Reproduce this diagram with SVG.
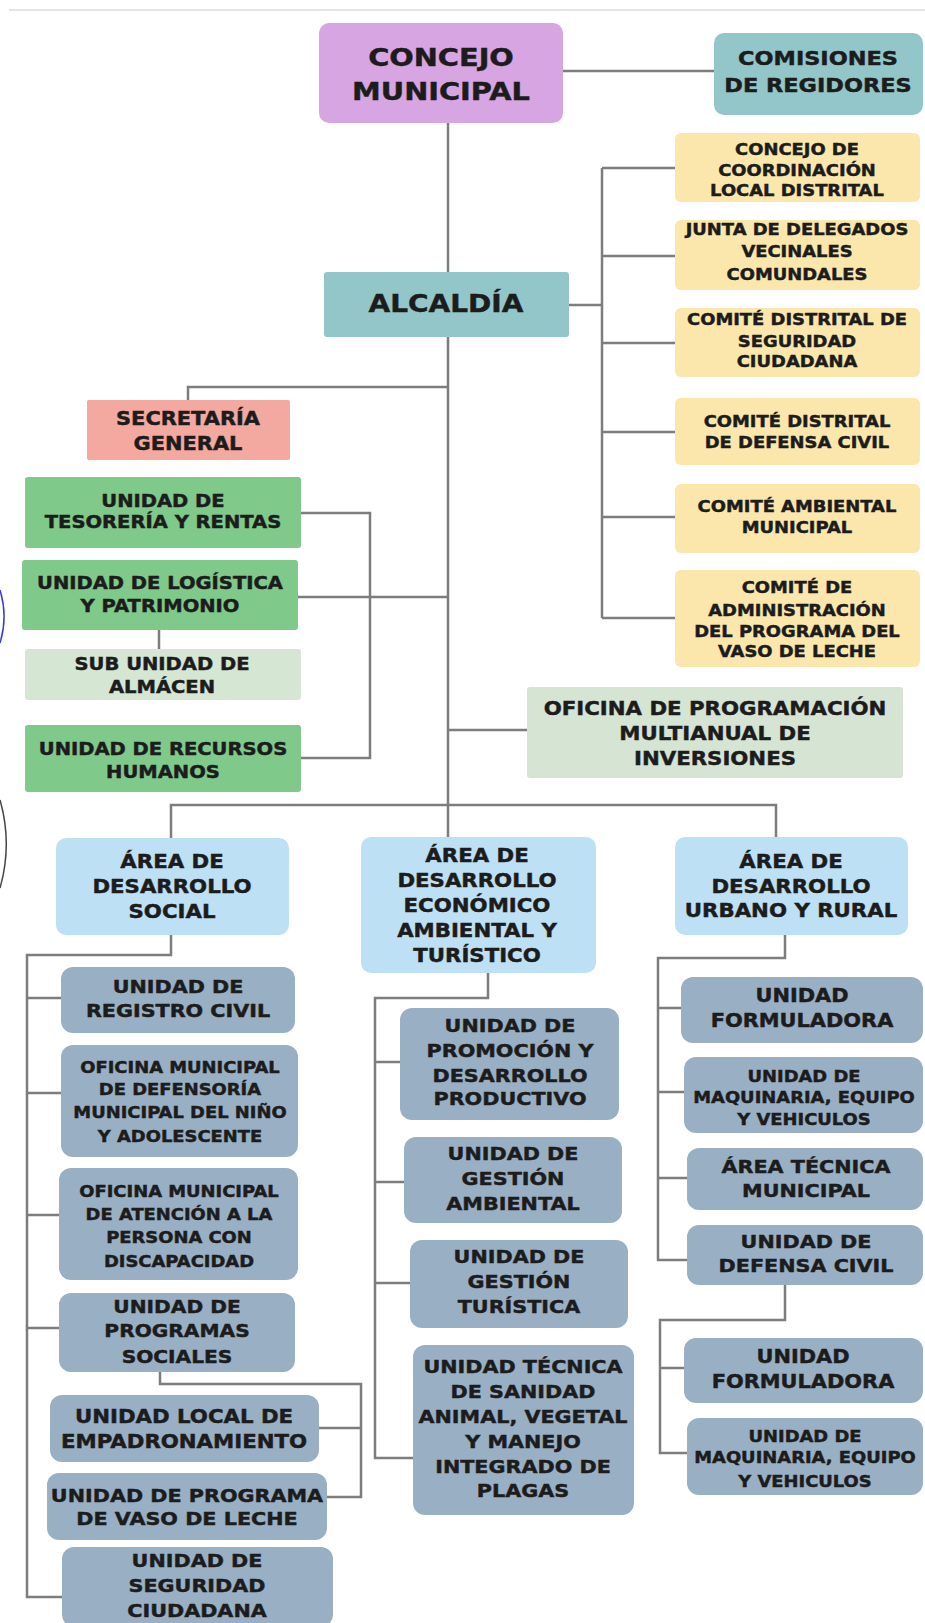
<svg xmlns="http://www.w3.org/2000/svg" width="925" height="1623" viewBox="0 0 925 1623">
<style>
.t text{font-family:"DejaVu Sans","Liberation Sans",sans-serif;font-weight:bold;text-anchor:middle;fill:#1c1c1c;stroke:#1c1c1c;stroke-width:0.45}
.c path{fill:none;stroke:#7d7d7d;stroke-width:2.5;stroke-linecap:butt;stroke-linejoin:miter}
.purple{fill:#D7A5E1}
.teal{fill:#93C6C9}
.yel{fill:#FBE7AB}
.sal{fill:#F3A8A0}
.grn{fill:#7FC98B}
.lgrn{fill:#D5E7D3}
.sage{fill:#D6E4D3}
.area{fill:#BEE0F5}
.gb{fill:#98AFC4}
</style>
<rect x="0" y="0" width="925" height="1623" fill="#ffffff"/>
<line x1="9" y1="10" x2="925" y2="10" stroke="#e4e4e4" stroke-width="2"/>
<path d="M0 590 A90 90 0 0 1 0 643" fill="none" stroke="#3b3bd8" stroke-width="1.5"/>
<path d="M0 800 A160 160 0 0 1 0 888" fill="none" stroke="#444" stroke-width="1.5"/>

<g id="connectors" class="c">
<path d="M563 71 H714"/>
<path d="M448 123 V272"/>
<path d="M569 305 H602"/>
<path d="M602 168 V618"/>
<path d="M602 168 H675 M602 256 H675 M602 343 H675 M602 432 H675 M602 517 H675 M602 618 H675"/>
<path d="M448 337 V837"/>
<path d="M448 387 H188 V400"/>
<path d="M301 513 H370 V758 H301"/>
<path d="M298 597 H448"/>
<path d="M159 630 V649"/>
<path d="M448 730 H527"/>
<path d="M171 838 V805 H776 V837"/>
<path d="M171 935 V955 H27 V1597 H62"/>
<path d="M27 998 H61 M27 1093 H61 M27 1215 H59 M27 1328 H59"/>
<path d="M160 1372 V1384 H361 V1497 H327 M361 1428 H319"/>
<path d="M488 973 V998 H375 V1458 H413"/>
<path d="M375 1062 H400 M375 1182 H404 M375 1283 H410"/>
<path d="M785 935 V958 H658 V1260 H687"/>
<path d="M658 1008 H681 M658 1092 H684 M658 1178 H687"/>
<path d="M785 1285 V1320 H660 V1453 H687 M660 1368 H684"/>
</g>

<g id="n-concejo"><rect class="purple" x="319" y="23" width="244" height="100" rx="10"/>
<g class="t" font-size="24" transform="translate(441 0) scale(1.2 1)"><text y="66">CONCEJO</text><text y="100">MUNICIPAL</text></g></g>

<g id="n-comisiones"><rect class="teal" x="714" y="33" width="209" height="82" rx="10"/>
<g class="t" font-size="19" transform="translate(818 0) scale(1.18 1)"><text y="65">COMISIONES</text><text y="92">DE REGIDORES</text></g></g>

<g id="n-alcaldia"><rect class="teal" x="324" y="272" width="245" height="65" rx="3"/>
<g class="t" font-size="25" transform="translate(446 0) scale(1.12 1)"><text y="312">ALCALDÍA</text></g></g>

<g id="n-ccld"><rect class="yel" x="675" y="133" width="245" height="69" rx="6"/>
<g class="t" font-size="16" transform="translate(797 0) scale(1.12 1)"><text y="155">CONCEJO DE</text><text y="176">COORDINACIÓN</text><text y="196">LOCAL DISTRITAL</text></g></g>

<g id="n-junta"><rect class="yel" x="675" y="220" width="245" height="70" rx="6"/>
<g class="t" font-size="16" transform="translate(797 0) scale(1.12 1)"><text y="235">JUNTA DE DELEGADOS</text><text y="257">VECINALES</text><text y="280">COMUNDALES</text></g></g>

<g id="n-seguridad-dist"><rect class="yel" x="675" y="308" width="245" height="69" rx="6"/>
<g class="t" font-size="16" transform="translate(797 0) scale(1.12 1)"><text y="325">COMITÉ DISTRITAL DE</text><text y="347">SEGURIDAD</text><text y="367">CIUDADANA</text></g></g>

<g id="n-defensa-dist"><rect class="yel" x="675" y="398" width="245" height="67" rx="6"/>
<g class="t" font-size="16" transform="translate(797 0) scale(1.12 1)"><text y="427">COMITÉ DISTRITAL</text><text y="448">DE DEFENSA CIVIL</text></g></g>

<g id="n-ambiental"><rect class="yel" x="675" y="484" width="245" height="69" rx="6"/>
<g class="t" font-size="16" transform="translate(797 0) scale(1.12 1)"><text y="512">COMITÉ AMBIENTAL</text><text y="533">MUNICIPAL</text></g></g>

<g id="n-vaso-comite"><rect class="yel" x="675" y="570" width="245" height="97" rx="6"/>
<g class="t" font-size="16" transform="translate(797 0) scale(1.12 1)"><text y="593">COMITÉ DE</text><text y="616">ADMINISTRACIÓN</text><text y="637">DEL PROGRAMA DEL</text><text y="657">VASO DE LECHE</text></g></g>

<g id="n-secretaria"><rect class="sal" x="87" y="400" width="203" height="60" rx="2"/>
<g class="t" font-size="19" transform="translate(188 0) scale(1.1 1)"><text y="425">SECRETARÍA</text><text y="450">GENERAL</text></g></g>

<g id="n-tesoreria"><rect class="grn" x="25" y="477" width="276" height="71" rx="3"/>
<g class="t" font-size="17" transform="translate(163 0) scale(1.15 1)"><text y="507">UNIDAD DE</text><text y="528">TESORERÍA Y RENTAS</text></g></g>

<g id="n-logistica"><rect class="grn" x="22" y="560" width="276" height="70" rx="3"/>
<g class="t" font-size="17" transform="translate(160 0) scale(1.15 1)"><text y="589">UNIDAD DE LOGÍSTICA</text><text y="612">Y PATRIMONIO</text></g></g>

<g id="n-almacen"><rect class="lgrn" x="25" y="649" width="276" height="51" rx="3"/>
<g class="t" font-size="17" transform="translate(162 0) scale(1.15 1)"><text y="670">SUB UNIDAD DE</text><text y="693">ALMÁCEN</text></g></g>

<g id="n-rrhh"><rect class="grn" x="25" y="725" width="276" height="67" rx="3"/>
<g class="t" font-size="17" transform="translate(163 0) scale(1.15 1)"><text y="755">UNIDAD DE RECURSOS</text><text y="778">HUMANOS</text></g></g>

<g id="n-opmi"><rect class="sage" x="527" y="687" width="376" height="91" rx="3"/>
<g class="t" font-size="19" transform="translate(715 0) scale(1.12 1)"><text y="715">OFICINA DE PROGRAMACIÓN</text><text y="740">MULTIANUAL DE</text><text y="765">INVERSIONES</text></g></g>

<g id="n-area-social"><rect class="area" x="56" y="838" width="233" height="97" rx="10"/>
<g class="t" font-size="19" transform="translate(172 0) scale(1.12 1)"><text y="868">ÁREA DE</text><text y="893">DESARROLLO</text><text y="918">SOCIAL</text></g></g>

<g id="n-area-eco"><rect class="area" x="361" y="837" width="235" height="136" rx="10"/>
<g class="t" font-size="19" transform="translate(477 0) scale(1.12 1)"><text y="862">ÁREA DE</text><text y="887">DESARROLLO</text><text y="912">ECONÓMICO</text><text y="937">AMBIENTAL Y</text><text y="962">TURÍSTICO</text></g></g>

<g id="n-area-urb"><rect class="area" x="675" y="837" width="233" height="98" rx="10"/>
<g class="t" font-size="19" transform="translate(791 0) scale(1.12 1)"><text y="868">ÁREA DE</text><text y="893">DESARROLLO</text><text y="917">URBANO Y RURAL</text></g></g>

<g id="n-registro"><rect class="gb" x="61" y="967" width="234" height="66" rx="12"/>
<g class="t" font-size="18" transform="translate(178 0) scale(1.15 1)"><text y="993">UNIDAD DE</text><text y="1017">REGISTRO CIVIL</text></g></g>

<g id="n-demuna"><rect class="gb" x="61" y="1045" width="237" height="112" rx="12"/>
<g class="t" font-size="16" transform="translate(180 0) scale(1.12 1)"><text y="1073">OFICINA MUNICIPAL</text><text y="1095">DE DEFENSORÍA</text><text y="1118">MUNICIPAL DEL NIÑO</text><text y="1142">Y ADOLESCENTE</text></g></g>

<g id="n-omaped"><rect class="gb" x="59" y="1168" width="239" height="112" rx="12"/>
<g class="t" font-size="16" transform="translate(179 0) scale(1.12 1)"><text y="1197">OFICINA MUNICIPAL</text><text y="1220">DE ATENCIÓN A LA</text><text y="1243">PERSONA CON</text><text y="1267">DISCAPACIDAD</text></g></g>

<g id="n-programas"><rect class="gb" x="59" y="1293" width="236" height="79" rx="12"/>
<g class="t" font-size="18" transform="translate(177 0) scale(1.12 1)"><text y="1313">UNIDAD DE</text><text y="1337">PROGRAMAS</text><text y="1363">SOCIALES</text></g></g>

<g id="n-empadronamiento"><rect class="gb" x="50" y="1395" width="269" height="67" rx="12"/>
<g class="t" font-size="19" transform="translate(184 0) scale(1.12 1)"><text y="1423">UNIDAD LOCAL DE</text><text y="1448">EMPADRONAMIENTO</text></g></g>

<g id="n-pvl"><rect class="gb" x="47" y="1473" width="280" height="67" rx="12"/>
<g class="t" font-size="18.5" transform="translate(187 0) scale(1.12 1)"><text y="1502">UNIDAD DE PROGRAMA</text><text y="1525">DE VASO DE LECHE</text></g></g>

<g id="n-seg-ciud"><rect class="gb" x="62" y="1547" width="271" height="80" rx="12"/>
<g class="t" font-size="18.5" transform="translate(197 0) scale(1.12 1)"><text y="1567">UNIDAD DE</text><text y="1592">SEGURIDAD</text><text y="1617">CIUDADANA</text></g></g>

<g id="n-promocion"><rect class="gb" x="400" y="1008" width="219" height="112" rx="12"/>
<g class="t" font-size="18.5" transform="translate(510 0) scale(1.12 1)"><text y="1032">UNIDAD DE</text><text y="1057">PROMOCIÓN Y</text><text y="1082">DESARROLLO</text><text y="1105">PRODUCTIVO</text></g></g>

<g id="n-gestion-amb"><rect class="gb" x="404" y="1137" width="218" height="86" rx="12"/>
<g class="t" font-size="18.5" transform="translate(513 0) scale(1.12 1)"><text y="1160">UNIDAD DE</text><text y="1185">GESTIÓN</text><text y="1210">AMBIENTAL</text></g></g>

<g id="n-gestion-tur"><rect class="gb" x="410" y="1240" width="218" height="88" rx="12"/>
<g class="t" font-size="18.5" transform="translate(519 0) scale(1.12 1)"><text y="1263">UNIDAD DE</text><text y="1288">GESTIÓN</text><text y="1313">TURÍSTICA</text></g></g>

<g id="n-sanidad"><rect class="gb" x="413" y="1345" width="221" height="170" rx="12"/>
<g class="t" font-size="18.5" transform="translate(523 0) scale(1.12 1)"><text y="1373">UNIDAD TÉCNICA</text><text y="1398">DE SANIDAD</text><text y="1423">ANIMAL, VEGETAL</text><text y="1448">Y MANEJO</text><text y="1473">INTEGRADO DE</text><text y="1497">PLAGAS</text></g></g>

<g id="n-formuladora1"><rect class="gb" x="681" y="977" width="242" height="66" rx="12"/>
<g class="t" font-size="19" transform="translate(802 0) scale(1.1 1)"><text y="1002">UNIDAD</text><text y="1027">FORMULADORA</text></g></g>

<g id="n-maquinaria1"><rect class="gb" x="684" y="1057" width="239" height="76" rx="12"/>
<g class="t" font-size="16" transform="translate(804 0) scale(1.12 1)"><text y="1082">UNIDAD DE</text><text y="1103">MAQUINARIA, EQUIPO</text><text y="1125">Y VEHICULOS</text></g></g>

<g id="n-tecnica"><rect class="gb" x="687" y="1148" width="236" height="62" rx="12"/>
<g class="t" font-size="18.5" transform="translate(806 0) scale(1.12 1)"><text y="1173">ÁREA TÉCNICA</text><text y="1197">MUNICIPAL</text></g></g>

<g id="n-defensa-civil"><rect class="gb" x="687" y="1225" width="236" height="60" rx="12"/>
<g class="t" font-size="18.5" transform="translate(806 0) scale(1.12 1)"><text y="1248">UNIDAD DE</text><text y="1272">DEFENSA CIVIL</text></g></g>

<g id="n-formuladora2"><rect class="gb" x="684" y="1338" width="239" height="65" rx="12"/>
<g class="t" font-size="19" transform="translate(803 0) scale(1.1 1)"><text y="1363">UNIDAD</text><text y="1388">FORMULADORA</text></g></g>

<g id="n-maquinaria2"><rect class="gb" x="687" y="1418" width="236" height="77" rx="12"/>
<g class="t" font-size="16" transform="translate(805 0) scale(1.12 1)"><text y="1442">UNIDAD DE</text><text y="1463">MAQUINARIA, EQUIPO</text><text y="1487">Y VEHICULOS</text></g></g>
</svg>
